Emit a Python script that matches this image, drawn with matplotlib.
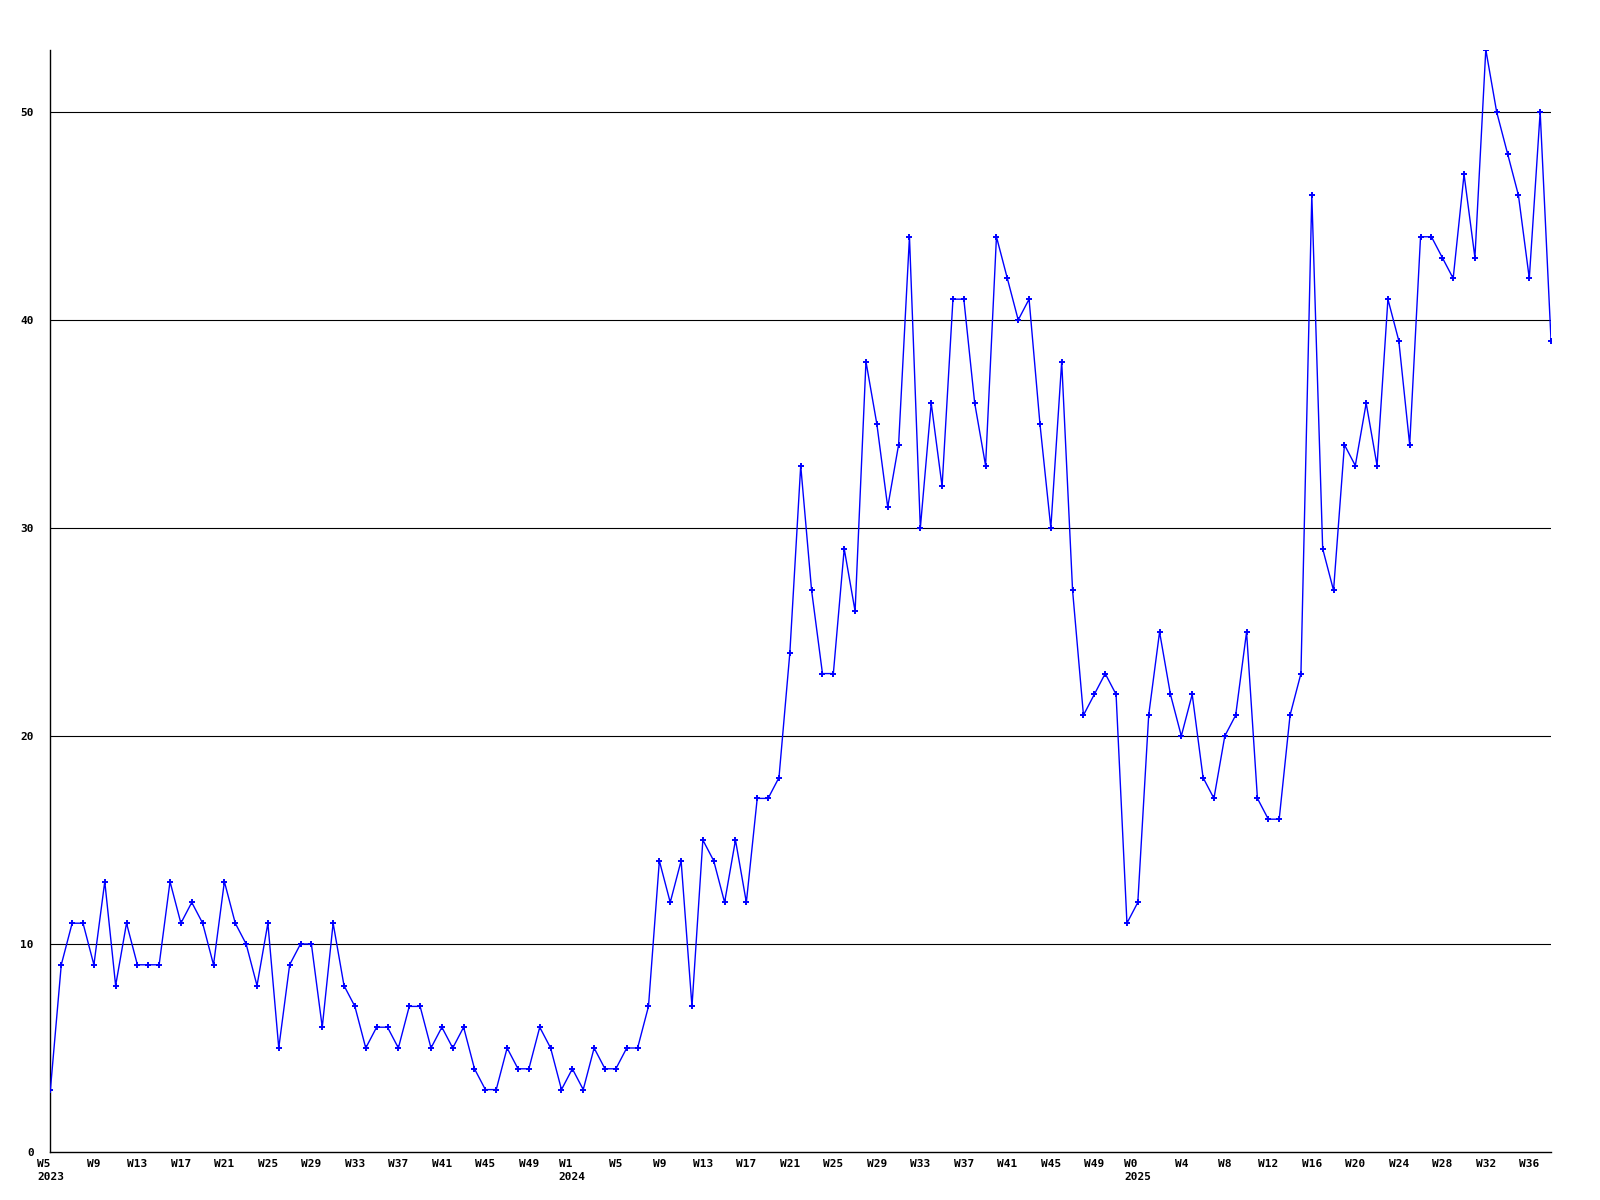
import matplotlib.pyplot as plt

# 週ごとの件数
weeks_2023 = list(range(5, 53))
weeks_2024 = list(range(1, 53))
weeks_2025 = list(range(0, 39))

values_2023 = [3, 9, 11, 11, 9, 13, 8, 11, 9, 9, 9, 13, 11, 12, 11, 9, 13, 11, 10, 8,
               11, 5, 9, 10, 10, 6, 11, 8, 7, 5, 6, 6, 5, 7, 7, 5, 6, 5, 6, 4,
               3, 3, 5, 4, 4, 6, 5, 3]
values_2024 = [4, 3, 5, 4, 4, 5, 5, 7, 14, 12, 14, 7, 15, 14, 12, 15, 12, 17, 17, 18,
               24, 33, 27, 23, 23, 29, 26, 38, 35, 31, 34, 44, 30, 36, 32, 41, 41, 36, 33, 44,
               42, 40, 41, 35, 30, 38, 27, 21, 22, 23, 22, 11]
values_2025 = [12, 21, 25, 22, 20, 22, 18, 17, 20, 21, 25, 17, 16, 16, 21, 23, 46, 29, 27, 34,
               33, 36, 33, 41, 39, 34, 44, 44, 43, 42, 47, 43, 53, 50, 48, 46, 42, 50, 39]

y_ticks = [0, 10, 20, 30, 40, 50]

# 結合
values = values_2023 + values_2024 + values_2025
labels = []
for year, weeks in [(2023, weeks_2023), (2024, weeks_2024), (2025, weeks_2025)]:
    for k, w in enumerate(weeks):
        labels.append(f"W{w}\n{year}" if k == 0 else f"W{w}")
x = list(range(len(values)))

# 描画
fig = plt.figure(figsize=(16, 12), dpi=100, facecolor="white")
ax = fig.add_axes([0.0315, 0.040, 0.9379, 0.9187])

ax.plot(x, values, color="#0000ff", linewidth=1.0, marker="+",
        markersize=4, markeredgewidth=1.4, zorder=3)

ax.set_xlim(0, len(values) - 1)
ax.set_ylim(0, 53)
ax.set_yticks(y_ticks)
ax.set_yticklabels([str(v) for v in y_ticks])

tick_pos = x[::4]
ax.set_xticks(tick_pos)
ax.set_xticklabels([labels[i] for i in tick_pos], linespacing=1.35,
                   multialignment="left")

for v in y_ticks[1:]:
    ax.axhline(v, color="black", linewidth=0.8, zorder=1)

for s in ["top", "right"]:
    ax.spines[s].set_visible(False)
for s in ["left", "bottom"]:
    ax.spines[s].set_linewidth(1.0)
    ax.spines[s].set_color("black")

ax.tick_params(axis="both", length=0, labelsize=8)
ax.tick_params(axis="y", pad=12)
ax.tick_params(axis="x", pad=5)
for t in ax.get_xticklabels() + ax.get_yticklabels():
    t.set_fontfamily("DejaVu Sans Mono")
    t.set_fontweight("bold")

fig.savefig("out.png", dpi=100, facecolor="white")
